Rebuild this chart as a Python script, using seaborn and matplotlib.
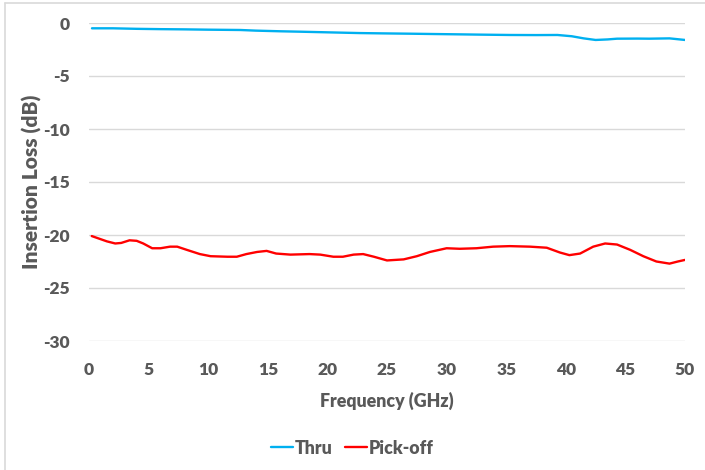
import matplotlib
matplotlib.use("Agg")
import matplotlib.pyplot as plt
from matplotlib.lines import Line2D
import pandas as pd
import seaborn as sns

# Measured insertion loss of the coupler, through path and pick-off port
thru_freq = [0.25, 2, 4, 6, 8, 10, 12.7, 14, 16, 17.7, 20, 22.7, 24.7, 27, 28.9,
             31, 33, 35.3, 37.5, 39.3, 40.5, 41.5, 42.5, 43.5, 44.3, 46, 47, 48.7, 50]
thru_db = [-0.5, -0.5, -0.55, -0.58, -0.6, -0.63, -0.66, -0.72, -0.78, -0.82, -0.88,
           -0.95, -0.98, -1.01, -1.04, -1.07, -1.1, -1.13, -1.14, -1.13, -1.25, -1.45,
           -1.6, -1.55, -1.48, -1.47, -1.48, -1.45, -1.6]

pick_freq = [0.23, 1.5, 2.2, 2.7, 3.4, 4.0, 4.55, 5.3, 6.0, 6.8, 7.4, 8.2, 9.3, 10.2,
             11.6, 12.4, 13.2, 14.1, 14.9, 15.7, 16.9, 18.5, 19.4, 20.5, 21.3, 22.2,
             23.0, 23.9, 25.0, 26.4, 27.5, 28.6, 30.0, 31.1, 32.5, 33.9, 35.3, 37.0,
             38.4, 39.5, 40.3, 41.2, 42.3, 43.3, 44.3, 45.4, 46.5, 47.6, 48.7, 49.4, 50.0]
pick_db = [-20.1, -20.6, -20.8, -20.75, -20.5, -20.55, -20.8, -21.25, -21.25, -21.1,
           -21.1, -21.4, -21.8, -22.0, -22.05, -22.05, -21.8, -21.6, -21.5, -21.75,
           -21.85, -21.8, -21.85, -22.05, -22.05, -21.85, -21.8, -22.05, -22.4, -22.3,
           -22.0, -21.6, -21.25, -21.3, -21.25, -21.1, -21.05, -21.1, -21.2, -21.65,
           -21.9, -21.75, -21.1, -20.8, -20.9, -21.4, -22.0, -22.5, -22.7, -22.5, -22.35]

series_names = ["Thru", "Pick-off"]
series_colors = ["#00B0F0", "#FF0000"]

x_ticks = [0, 5, 10, 15, 20, 25, 30, 35, 40, 45, 50]
y_ticks = [0, -5, -10, -15, -20, -25, -30]

df = pd.concat([
    pd.DataFrame({"Frequency": thru_freq, "Loss": thru_db, "Series": series_names[0]}),
    pd.DataFrame({"Frequency": pick_freq, "Loss": pick_db, "Series": series_names[1]}),
], ignore_index=True)

sns.set_theme(style="white")
plt.rcParams["font.family"] = ["Lato", "DejaVu Sans"]
plt.rcParams["axes.unicode_minus"] = False
text_color = "#595959"

fig = plt.figure(figsize=(7.05, 4.70), dpi=100)
ax = fig.add_axes([89 / 705, 1 - 341 / 470, (685 - 89) / 705, (341 - 23) / 470])

sns.lineplot(data=df, x="Frequency", y="Loss", hue="Series",
             hue_order=series_names, palette=series_colors,
             linewidth=1.7, sort=True, estimator=None, legend=False, ax=ax)

ax.set_xlim(0, 50)
ax.set_ylim(-30, 0)
ax.set_xticks(x_ticks)
ax.set_yticks(y_ticks)
ax.yaxis.grid(True, color="#D9D9D9", linewidth=1.0)
ax.xaxis.grid(False)
ax.set_axisbelow(True)
for s in ax.spines.values():
    s.set_visible(False)
ax.tick_params(axis="both", length=0, labelsize=12.5, labelcolor=text_color)
ax.tick_params(axis="x", pad=15)
ax.tick_params(axis="y", pad=14)
for lbl in ax.get_xticklabels() + ax.get_yticklabels():
    lbl.set_fontweight("heavy")

ax.set_xlabel("Frequency (GHz)", fontsize=12.8, fontweight="heavy", color=text_color, labelpad=10)
ax.set_ylabel("Insertion Loss (dB)", fontsize=15, fontweight="heavy", color=text_color, labelpad=0.5)

handles = [Line2D([0], [0], color=c, linewidth=1.7) for c in series_colors]
leg = fig.legend(handles, series_names, loc="center", bbox_to_anchor=(0.5, 1 - 448 / 470),
                 ncol=2, frameon=False, handlelength=1.25, handletextpad=0.1,
                 columnspacing=0.7, fontsize=12.8)
for t in leg.get_texts():
    t.set_color(text_color)
    t.set_fontweight("heavy")

# chart area border
fig.add_artist(Line2D([4.5 / 705, 4.5 / 705], [0, 1 - 3 / 470], color="#D9D9D9", linewidth=1.2))
fig.add_artist(Line2D([4.5 / 705, 1], [1 - 3 / 470, 1 - 3 / 470], color="#D9D9D9", linewidth=1.2))

fig.savefig("out.png", dpi=100, facecolor="white")
